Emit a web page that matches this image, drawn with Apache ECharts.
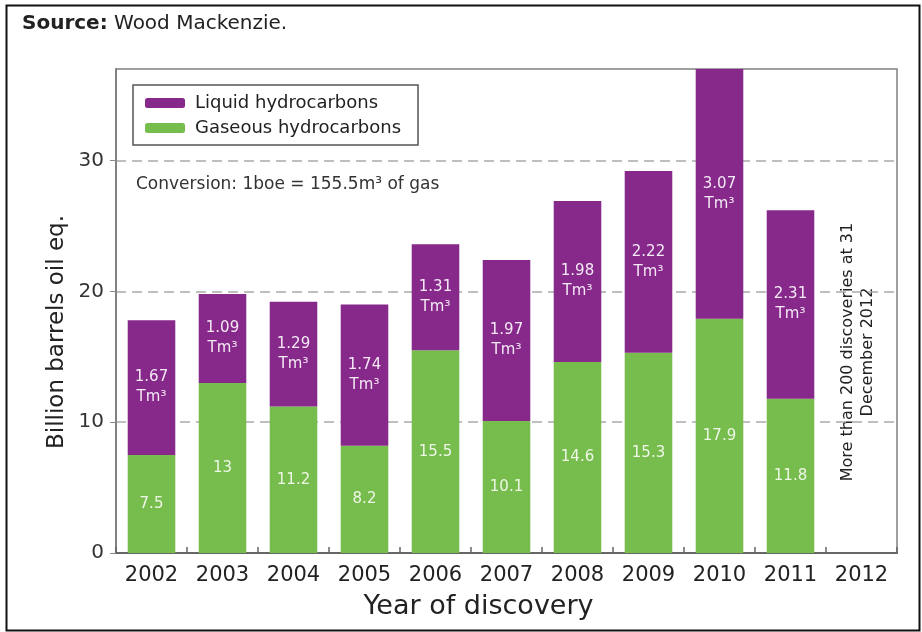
<!DOCTYPE html>
<html>
<head>
<meta charset="utf-8">
<script src="https://cdn.jsdelivr.net/npm/echarts@6/dist/echarts.min.js"></script>
<style>
  html, body { margin: 0; padding: 0; background: #fff; }
  #chart { width: 922px; height: 632px; }
</style>
</head>
<body>
<div id="chart"></div>
<script>
// data (billion barrels oil eq.)
var years = ['2002', '2003', '2004', '2005', '2006', '2007', '2008', '2009', '2010', '2011', '2012'];
var gasValues = [7.5, 13, 11.2, 8.2, 15.5, 10.1, 14.6, 15.3, 17.9, 11.8, null];
var liquidValues = [10.3, 6.8, 8.0, 10.8, 8.1, 12.3, 12.3, 13.9, 19.3, 14.4, null];
var gasVolumeLabels = ['1.67', '1.09', '1.29', '1.74', '1.31', '1.97', '1.98', '2.22', '3.07', '2.31', ''];
var yTicks = [0, 10, 20, 30];

var FONT = 'DejaVu Sans';
var PURPLE = '#86298b';
var GREEN = '#77bd4e';

var dom = document.getElementById('chart');
var myChart = echarts.init(dom);
myChart.setOption({
    animation: false,
    backgroundColor: '#fff',
    textStyle: { fontFamily: FONT },
    grid: {
        left: 116,
        right: 25,
        top: 69,
        bottom: 79,
        show: true,
        borderColor: '#808080',
        borderWidth: 1.5
    },
    legend: {
        data: ['Liquid hydrocarbons', 'Gaseous hydrocarbons'],
        orient: 'vertical',
        left: 133,
        top: 85,
        itemWidth: 40,
        itemHeight: 10,
        itemGap: 7,
        padding: [9, 17, 8, 12],
        backgroundColor: '#fff',
        borderColor: '#555',
        borderWidth: 1.5,
        textStyle: { fontFamily: FONT, fontSize: 18, color: '#222', padding: [0, 0, 0, 5] }
    },
    xAxis: {
        type: 'category',
        data: years,
        name: 'Year of discovery',
        nameLocation: 'middle',
        nameGap: 40,
        nameTextStyle: { fontFamily: FONT, fontSize: 27, color: '#222', padding: [0, 56, 0, 0] },
        axisLine: { lineStyle: { color: '#666', width: 2 } },
        axisTick: { show: true, inside: true, length: 6, lineStyle: { color: '#666', width: 1.5 } },
        axisLabel: { interval: 0, fontFamily: FONT, fontSize: 21, color: '#222', margin: 12 }
    },
    yAxis: {
        type: 'value',
        min: 0,
        max: 37,
        interval: 10,
        axisLine: { show: true, lineStyle: { color: '#777', width: 1.5 } },
        axisTick: { show: true, length: 6, customValues: yTicks, lineStyle: { color: '#888' } },
        axisLabel: {
            fontFamily: FONT, fontSize: 20, color: '#333', margin: 12,
            customValues: yTicks,
            formatter: function (v) { return yTicks.indexOf(v) >= 0 ? String(v) : ''; }
        },
        splitLine: { show: true, lineStyle: { color: '#aaa', type: [10, 6], width: 1.5 } }
    },
    series: [{
        name: 'Gaseous hydrocarbons',
        type: 'bar',
        stack: 'total',
        clip: true,
        barCategoryGap: '33%',
        data: gasValues,
        itemStyle: { color: GREEN },
        label: {
            show: true,
            position: 'inside',
            color: '#eef7e6',
            fontFamily: FONT,
            fontSize: 15
        }
    }, {
        name: 'Liquid hydrocarbons',
        type: 'bar',
        stack: 'total',
        clip: true,
        data: liquidValues,
        itemStyle: { color: PURPLE },
        label: {
            show: true,
            position: 'inside',
            color: '#f4e9f5',
            fontFamily: FONT,
            fontSize: 15,
            lineHeight: 20,
            formatter: function (p) {
                var s = gasVolumeLabels[p.dataIndex];
                return s ? s + '\nTm³' : '';
            }
        }
    }],
    graphic: [{
        type: 'rect',
        left: 4, top: 3,
        shape: { width: 913, height: 625 },
        style: { fill: 'none', stroke: '#111', lineWidth: 2 },
        silent: true
    }, {
        type: 'text',
        left: 22, top: 14,
        style: {
            text: '{b|Source:} Wood Mackenzie.',
            font: '20px "DejaVu Sans"',
            fill: '#222',
            rich: {
                b: { fontWeight: 'bold', fontSize: 20, fontFamily: FONT, fill: '#222' }
            }
        }
    }, {
        type: 'text',
        left: 136, top: 176,
        style: {
            text: 'Conversion: 1boe = 155.5m³ of gas',
            font: '17px "DejaVu Sans"',
            fill: '#333'
        }
    }, {
        // y axis title
        type: 'text',
        x: 57, y: 332,
        rotation: Math.PI / 2,
        style: {
            text: 'Billion barrels oil eq.',
            font: '23px "DejaVu Sans"',
            fill: '#222',
            align: 'center',
            verticalAlign: 'middle'
        }
    }, {
        type: 'text',
        x: 858, y: 352,
        rotation: Math.PI / 2,
        style: {
            text: 'More than 200 discoveries at 31\nDecember 2012',
            font: '16px "DejaVu Sans"',
            lineHeight: 20,
            fill: '#222',
            align: 'center',
            verticalAlign: 'middle'
        }
    }]
});
window.addEventListener('resize', function () {
    myChart.resize();
});
</script>
</body>
</html>
